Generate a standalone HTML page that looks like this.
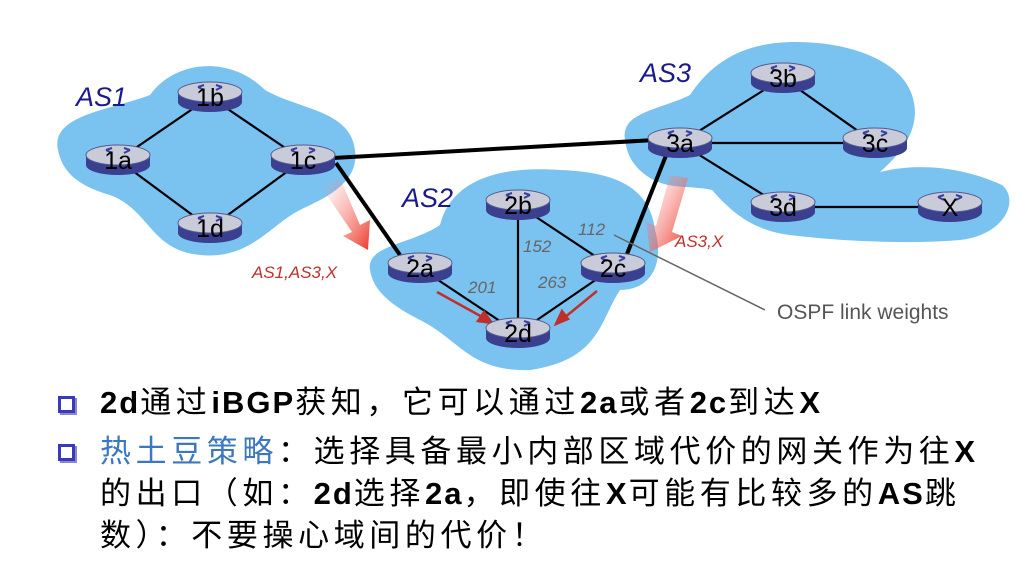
<!DOCTYPE html>
<html><head><meta charset="utf-8"><style>
body{margin:0;width:1032px;height:586px;background:#fff;overflow:hidden;position:relative;font-family:"Liberation Sans","Noto Sans CJK SC",sans-serif}
.t{position:absolute;left:100px;font-size:31px;letter-spacing:4.6px;color:#000;white-space:nowrap;line-height:40px}
.t b{font-weight:bold;letter-spacing:2px}
.b{position:absolute;left:58px;width:17px;height:17px;border:3px solid #3a3ab8;box-sizing:border-box;box-shadow:2px 2px 0 #8888cc}
</style></head><body>
<svg width="1032" height="586" style="position:absolute;left:0;top:0">
<defs>
<linearGradient id="ra" x1="0" y1="0" x2="1" y2="1"><stop offset="0" stop-color="#ff9999" stop-opacity="0"/><stop offset="1" stop-color="#e83a2a"/></linearGradient>
<g id="r">
<path d="M-32,0 v10 a32,10 0 0 0 64,0 v-10 z" fill="#3a3f8f"/>
<ellipse cx="0" cy="0" rx="32" ry="10" fill="#c9cbd8" stroke="#555a90" stroke-width="1"/>
<path d="M-12,-5 l6,3 M12,-5 l-6,3 M-6,-7 l-6,2 M6,-7 l6,2" stroke="#3a40a0" stroke-width="2"/>
</g>
</defs>
<path d="M58,150 C50,115 110,110 150,95 C175,60 230,55 265,90 C300,110 350,110 355,150 C360,185 320,200 300,210 C270,225 250,260 200,255 C150,250 150,210 110,195 C75,185 62,170 58,150Z" fill="#7ac3f0"/>
<path d="M370,270 C366,245 410,245 440,225 C450,185 490,165 560,170 C620,172 650,190 655,230 C665,265 650,290 620,290 C600,320 600,360 530,370 C470,372 460,340 420,320 C390,305 373,290 370,270Z" fill="#7ac3f0"/>
<path d="M625,140 C620,112 660,110 690,95 C710,65 740,42 795,42 C850,42 900,60 912,95 C922,125 905,150 880,172 C920,162 965,168 1002,185 C1020,200 1005,235 960,240 C900,245 830,240 790,235 C750,230 730,210 712,190 C690,185 670,190 650,178 C630,165 627,152 625,140Z" fill="#7ac3f0"/>
<g stroke="#000" stroke-width="2.2">
<line x1="118" y1="160" x2="210" y2="97"/><line x1="210" y1="97" x2="303" y2="160"/>
<line x1="118" y1="160" x2="210" y2="228"/><line x1="210" y1="228" x2="303" y2="160"/>
<line x1="518" y1="205" x2="518" y2="333"/><line x1="518" y1="205" x2="613" y2="268"/>
<line x1="420" y1="268" x2="518" y2="333"/><line x1="613" y1="268" x2="518" y2="333"/>
<line x1="680" y1="143" x2="783" y2="78"/><line x1="783" y1="78" x2="875" y2="143"/>
<line x1="680" y1="143" x2="875" y2="143"/><line x1="680" y1="143" x2="783" y2="207"/>
<line x1="783" y1="207" x2="950" y2="207"/>
</g>
<g stroke="#000" stroke-width="4">
<line x1="333" y1="158" x2="655" y2="140"/>
<line x1="336" y1="163" x2="400" y2="255"/>
<line x1="667" y1="153" x2="627" y2="254"/>
</g>
<path d="M322,188 L340,178 L360,225 L370,220 L368,250 L343,236 L352,232Z" fill="url(#ra)"/>
<path d="M670,175 L688,178 L672,232 L682,236 L650,252 L646,222 L656,226Z" fill="url(#ra)"/>
<g stroke="#c0302a" stroke-width="2.5" fill="#c0302a">
<line x1="437" y1="292" x2="484" y2="318"/><path d="M492,323 l-14,-2 l6,-9z"/>
<line x1="597" y1="291" x2="564" y2="318"/><path d="M556,324 l6,-13 l6,8z"/>
</g>
<line x1="614" y1="235" x2="765" y2="310" stroke="#666" stroke-width="1.5"/>
<g>
<use href="#r" x="210" y="92"/><use href="#r" x="118" y="155"/><use href="#r" x="303" y="155"/><use href="#r" x="210" y="223"/>
<use href="#r" x="420" y="263"/><use href="#r" x="518" y="200"/><use href="#r" x="613" y="263"/><use href="#r" x="518" y="328"/>
<use href="#r" x="680" y="138"/><use href="#r" x="783" y="73"/><use href="#r" x="875" y="138"/><use href="#r" x="783" y="202"/><use href="#r" x="950" y="202"/>
</g>
<g font-family="Liberation Sans, sans-serif" font-size="25" text-anchor="middle" fill="#000">
<text x="210" y="106">1b</text><text x="118" y="169">1a</text><text x="303" y="169">1c</text><text x="210" y="237">1d</text>
<text x="420" y="277">2a</text><text x="518" y="214">2b</text><text x="613" y="277">2c</text><text x="518" y="342">2d</text>
<text x="680" y="152">3a</text><text x="783" y="87">3b</text><text x="875" y="152">3c</text><text x="783" y="216">3d</text><text x="950" y="216">X</text>
</g>
<g font-family="Liberation Sans, sans-serif" font-style="italic" font-size="27" fill="#1a1a8c">
<text x="76" y="106">AS1</text><text x="402" y="207">AS2</text><text x="640" y="82">AS3</text>
</g>
<g font-family="Liberation Sans, sans-serif" font-style="italic" font-size="17" fill="#c0302a">
<text x="252" y="278">AS1,AS3,X</text><text x="675" y="247">AS3,X</text>
</g>
<g font-family="Liberation Sans, sans-serif" font-style="italic" font-size="17" fill="#666">
<text x="578" y="235">112</text><text x="523" y="252">152</text><text x="468" y="293">201</text><text x="538" y="288">263</text>
</g>
<text x="777" y="319" font-family="Liberation Sans, sans-serif" font-size="21" fill="#555">OSPF link weights</text>
</svg>
<div class="b" style="top:396px"></div>
<div class="b" style="top:444px"></div>
<div class="t" style="top:383px"><b>2d</b>通过<b>iBGP</b>获知，它可以通过<b>2a</b>或者<b>2c</b>到达<b>X</b></div>
<div class="t" style="top:432px"><span style="color:#3b78c0">热土豆策略</span>：选择具备最小内部区域代价的网关作为往<b>X</b></div>
<div class="t" style="top:474px">的出口（如：<b>2d</b>选择<b>2a</b>，即使往<b>X</b>可能有比较多的<b>AS</b>跳</div>
<div class="t" style="top:516px">数）：不要操心域间的代价！</div>
</body></html>
